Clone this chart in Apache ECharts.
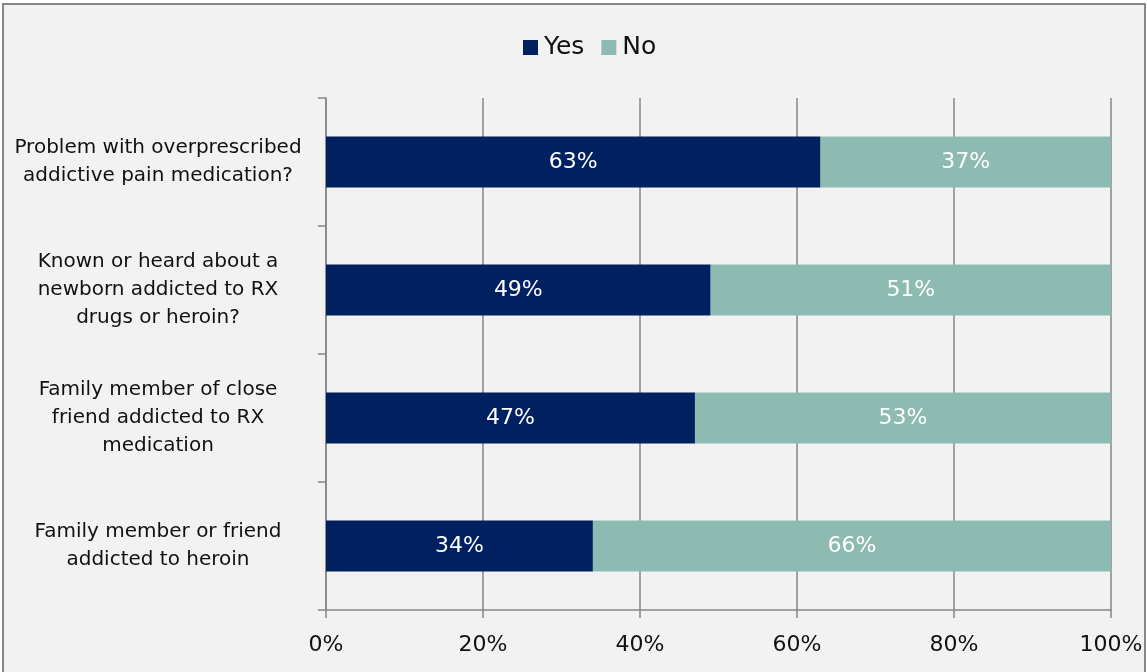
<!DOCTYPE html>
<html>
<head>
<meta charset="utf-8">
<script src="https://cdn.jsdelivr.net/npm/echarts@6/dist/echarts.min.js"></script>
<style>
  html, body { margin: 0; padding: 0; background: #ffffff; }
  #chart { width: 1147px; height: 672px; }
</style>
</head>
<body>
<div id="chart"></div>
<script>
// Survey questions, top to bottom
const categories = [
  'Problem with overprescribed\naddictive pain medication?',
  'Known or heard about a\nnewborn addicted to RX\ndrugs or heroin?',
  'Family member of close\nfriend addicted to RX\nmedication',
  'Family member or friend\naddicted to heroin'
];
// Share of respondents (%)
const yesValues = [63, 49, 47, 34];
const noValues = [37, 51, 53, 66];
const xTicks = [0, 20, 40, 60, 80, 100];

const FONT = 'DejaVu Sans';
const chart = echarts.init(document.getElementById('chart'));

chart.setOption({
  backgroundColor: '#ffffff',
  animation: false,
  textStyle: { fontFamily: FONT },
  graphic: [{
    type: 'rect',
    z: -10,
    shape: { x: 3, y: 4, width: 1142, height: 670 },
    style: { fill: '#f2f2f2', stroke: '#878787', lineWidth: 2 }
  }],
  legend: {
    top: 30,
    left: 518,
    itemWidth: 15,
    itemHeight: 15,
    itemGap: 17,
    icon: 'rect',
    textStyle: { fontSize: 25, color: '#111111', fontFamily: FONT, padding: [0, 0, 0, 1] },
    data: ['Yes', 'No']
  },
  grid: { left: 326, right: 36, top: 98, bottom: 62, containLabel: false },
  xAxis: {
    type: 'value',
    min: xTicks[0],
    max: xTicks[xTicks.length - 1],
    interval: 20,
    axisLine: { show: true, lineStyle: { color: '#868686', width: 1.5 } },
    axisTick: { show: true, length: 8, lineStyle: { color: '#868686', width: 1.5 } },
    splitLine: { show: true, lineStyle: { color: '#868686', width: 1.5 } },
    axisLabel: { formatter: '{value}%', fontSize: 22, color: '#111111', margin: 24, fontFamily: FONT }
  },
  yAxis: {
    type: 'category',
    inverse: true,
    data: categories,
    axisLine: { show: true, lineStyle: { color: '#868686', width: 1.5 } },
    axisTick: { show: true, length: 8, lineStyle: { color: '#868686', width: 1.5 } },
    axisLabel: {
      fontSize: 20,
      lineHeight: 28,
      color: '#111111',
      align: 'center',
      margin: 168,
      fontFamily: FONT
    }
  },
  series: [
    {
      name: 'Yes',
      type: 'bar',
      stack: 'total',
      barWidth: '40%',
      data: yesValues,
      itemStyle: { color: '#002060' },
      label: { show: true, position: 'inside', formatter: '{c}%', color: '#ffffff', fontSize: 22, fontFamily: FONT }
    },
    {
      name: 'No',
      type: 'bar',
      stack: 'total',
      barWidth: '40%',
      data: noValues,
      itemStyle: { color: '#8dbbb2' },
      label: { show: true, position: 'inside', formatter: '{c}%', color: '#ffffff', fontSize: 22, fontFamily: FONT }
    }
  ]
});
</script>
</body>
</html>
